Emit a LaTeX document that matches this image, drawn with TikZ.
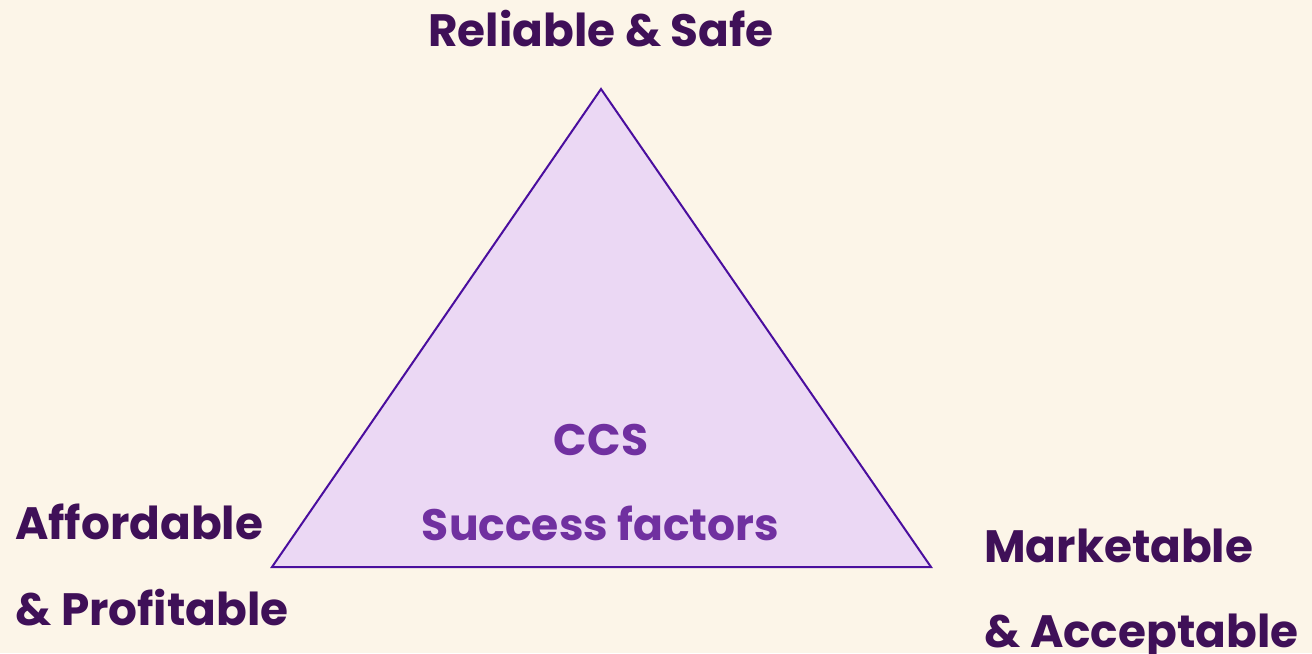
\documentclass[tikz,border=0pt]{standalone}
\usepackage{fontspec}
\setmainfont{Poppins}
\definecolor{bgc}{HTML}{FCF5E8}
\definecolor{darktxt}{HTML}{3F1058}
\definecolor{midtxt}{HTML}{7030A0}
\definecolor{trifill}{HTML}{EBD8F4}
\definecolor{tristroke}{HTML}{4A0E9E}
\begin{document}
\begin{tikzpicture}[x=0.75pt,y=-0.75pt,
  lbl/.style={inner sep=0pt,font=\fontsize{34}{40}\selectfont\bfseries,text=darktxt},
  ctr/.style={inner sep=0pt,font=\fontsize{33}{40}\selectfont\bfseries,text=midtxt}]
\fill[bgc] (0,0) rectangle (1312,653);
\useasboundingbox (0,0) rectangle (1312,653);
\coordinate (apex) at (601,89);
\coordinate (bl) at (272,567);
\coordinate (br) at (931,567);
\filldraw[fill=trifill,draw=tristroke,line width=1.5pt,line join=miter] (apex) -- (bl) -- (br) -- cycle;
\node[lbl,anchor=base] (top) at (601,46) {Reliable \& Safe};
\node[lbl,anchor=base west] (aff) at (15,539) {Affordable};
\node[lbl,anchor=base west] (prof) at (15,625) {\& Profitable};
\node[lbl,anchor=base west] (mkt) at (984,562) {Marketable};
\node[lbl,anchor=base west] (acc) at (984,647) {\& Acceptable};
\node[ctr,anchor=base] (ccs) at (601,455) {CCS};
\node[ctr,anchor=base] (sf) at (600.5,540) {Success factors};
\end{tikzpicture}
\end{document}
